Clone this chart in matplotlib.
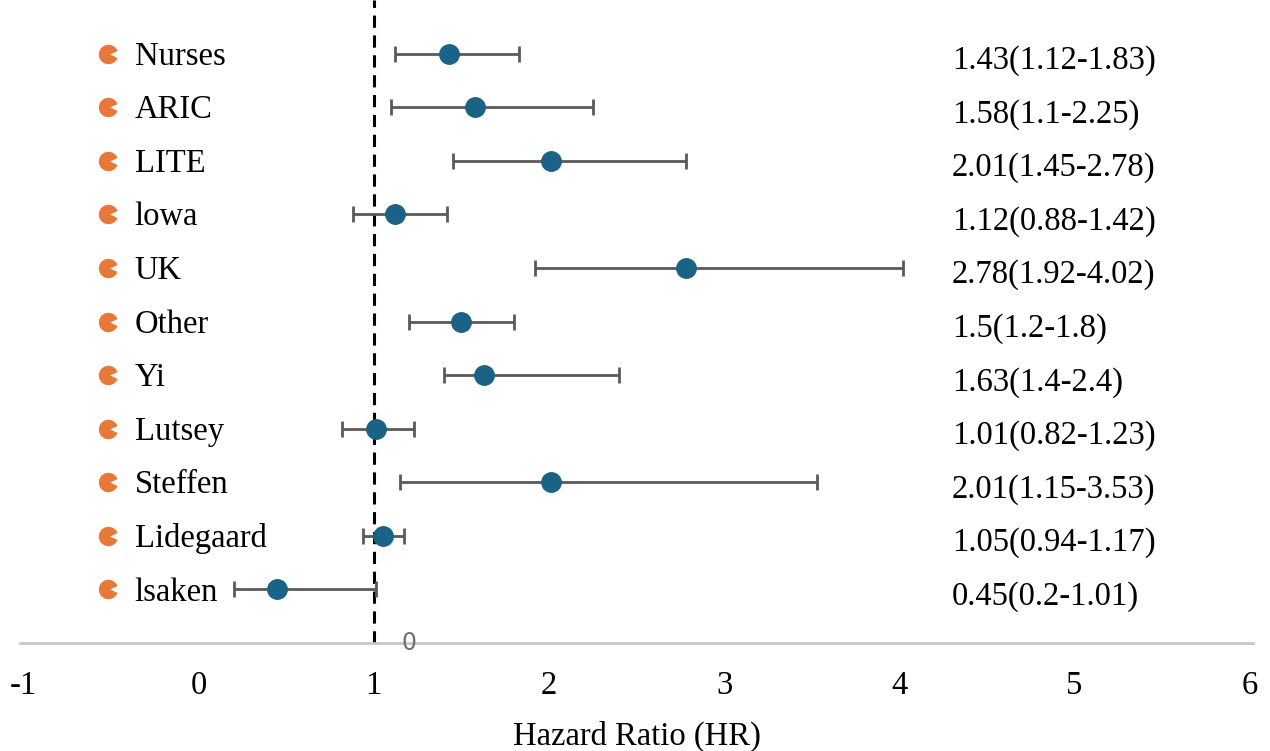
import matplotlib.pyplot as plt
from matplotlib.path import Path
from matplotlib.transforms import offset_copy

studies = ["Nurses", "ARIC", "LITE", "lowa", "UK", "Other", "Yi",
           "Lutsey", "Steffen", "Lidegaard", "lsaken"]
hr = [1.43, 1.58, 2.01, 1.12, 2.78, 1.5, 1.63, 1.01, 2.01, 1.05, 0.45]
lower = [1.12, 1.1, 1.45, 0.88, 1.92, 1.2, 1.4, 0.82, 1.15, 0.94, 0.2]
upper = [1.83, 2.25, 2.78, 1.42, 4.02, 1.8, 2.4, 1.23, 3.53, 1.17, 1.01]
ci_text = ["1.43(1.12-1.83)", "1.58(1.1-2.25)", "2.01(1.45-2.78)",
           "1.12(0.88-1.42)", "2.78(1.92-4.02)", "1.5(1.2-1.8)",
           "1.63(1.4-2.4)", "1.01(0.82-1.23)", "2.01(1.15-3.53)",
           "1.05(0.94-1.17)", "0.45(0.2-1.01)"]
xticks = [-1, 0, 1, 2, 3, 4, 5, 6]

serif = "Liberation Serif"
fs = 23.5

fig = plt.figure(figsize=(12.7, 7.51), dpi=100)
ax = fig.add_axes([20 / 1270, 1 - 643 / 751, 1233 / 1270, 643 / 751])

n = len(studies)
ypos = list(range(n, 0, -1))

err = [[h - l for h, l in zip(hr, lower)], [u - h for h, u in zip(hr, upper)]]
ax.errorbar(hr, ypos, xerr=err, fmt="o", color="#1b6386", markersize=14,
            ecolor="#5a5a5a", elinewidth=2, capsize=5.5, capthick=2, zorder=3)

ax.axvline(1, color="black", lw=2.2, linestyle=(0, (4, 2.5)), zorder=2)

pac = Path.wedge(25, 335)
ax.scatter([-0.52] * n, ypos, marker=pac, s=13 ** 2, color="#e8773a",
           clip_on=False, zorder=3)

# baseline a little below each row so the caps sit on the row
name_tr = offset_copy(ax.transData, fig=fig, y=-8, units="points")
val_tr = offset_copy(ax.transData, fig=fig, y=-11, units="points")
for y, name, txt in zip(ypos, studies, ci_text):
    ax.text(-0.365, y, name, fontsize=fs, family=serif, va="baseline",
            ha="left", transform=name_tr)
    ax.text(4.3, y, txt, fontsize=fs, family=serif, va="baseline",
            ha="left", transform=val_tr)

ax.text(1.2, 0, "0", fontsize=17, color="#707070", ha="center", va="center",
        zorder=4)

ax.set_xlim(-1.02, 6.02)
ax.set_ylim(0, 12)
ax.set_xticks(xticks)
ax.set_xticklabels([str(t) for t in xticks], fontsize=fs, family=serif)
ax.tick_params(axis="x", length=0, pad=20)
ax.set_yticks([])
for s in ["top", "right", "left"]:
    ax.spines[s].set_visible(False)
ax.spines["bottom"].set_color("#c8c8c8")
ax.spines["bottom"].set_linewidth(2)
ax.set_xlabel("Hazard Ratio (HR)", fontsize=fs, family=serif, labelpad=14)

fig.savefig("out.png", dpi=100)
